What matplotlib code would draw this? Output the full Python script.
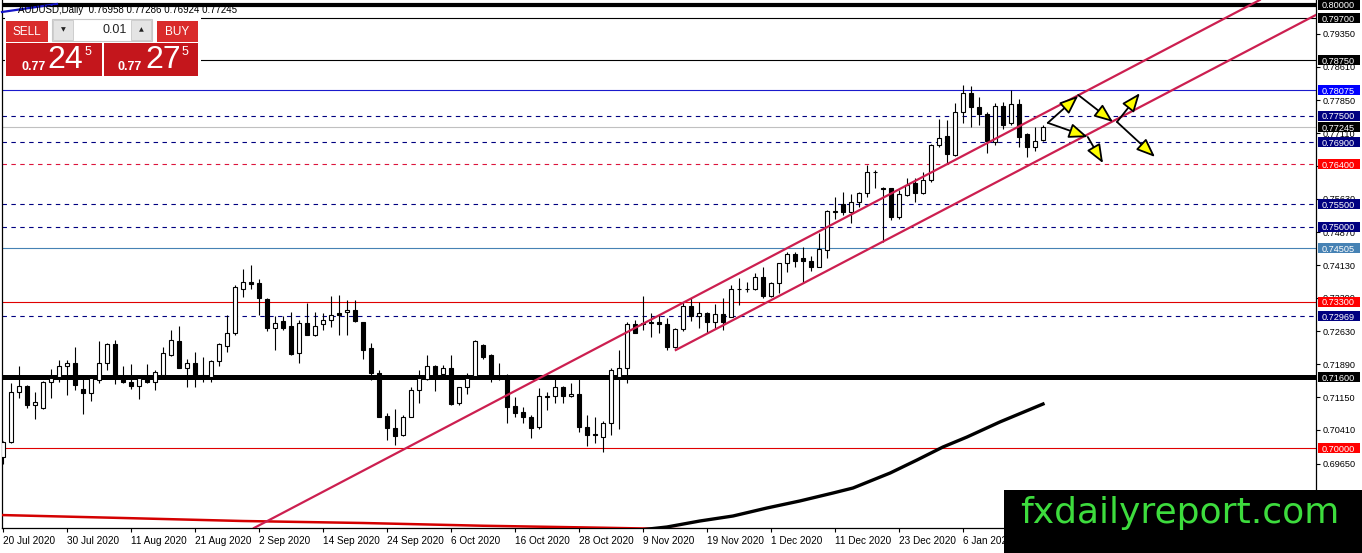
import matplotlib
matplotlib.use('Agg')
import matplotlib.pyplot as plt
from matplotlib.patches import Rectangle
import numpy as np

plt.rcParams['font.family'] = ['Liberation Sans', 'DejaVu Sans']

# ---------------- data ----------------
symbol_header = "AUDUSD,Daily  0.76958 0.77286 0.76924 0.77245"

opens = [0.6980, 0.7014, 0.7126, 0.7140, 0.7096, 0.7090, 0.7148, 0.7161, 0.7184, 0.7193,
         0.7133, 0.7124, 0.7153, 0.7191, 0.7234, 0.7159, 0.7148, 0.7141, 0.7156, 0.7148,
         0.7165, 0.7211, 0.7242, 0.7181, 0.7191, 0.7165, 0.7161, 0.7197, 0.7231, 0.7259,
         0.7360, 0.7374, 0.7372, 0.7336, 0.7272, 0.7287, 0.7276, 0.7214, 0.7282, 0.7255,
         0.7280, 0.7288, 0.7304, 0.7306, 0.7311, 0.7285, 0.7225, 0.7170, 0.7072, 0.7046,
         0.7029, 0.7071, 0.7131, 0.7155, 0.7185, 0.7168, 0.7180, 0.7101, 0.7137, 0.7162,
         0.7233, 0.7210, 0.7161, 0.7161, 0.7095, 0.7081, 0.7071, 0.7047, 0.7116, 0.7117,
         0.7137, 0.7118, 0.7123, 0.7048, 0.7032, 0.7024, 0.7056, 0.7160, 0.7180, 0.7281,
         0.7279, 0.7283, 0.7284, 0.7281, 0.7229, 0.7268, 0.7320, 0.7298, 0.7304, 0.7285,
         0.7302, 0.7296, 0.7359, 0.7358, 0.7360, 0.7385, 0.7342, 0.7372, 0.7417, 0.7439,
         0.7428, 0.7422, 0.7409, 0.7447, 0.7532, 0.7551, 0.7532, 0.7556, 0.7575, 0.7622,
         0.7588, 0.7586, 0.7522, 0.7571, 0.7599, 0.7575, 0.7606, 0.7684, 0.7704, 0.7661,
         0.7758, 0.7801, 0.7769, 0.7753, 0.7691, 0.7772, 0.7733, 0.7776, 0.7708, 0.7680,
         0.76958]
highs = [0.7016, 0.7146, 0.7184, 0.7142, 0.7127, 0.7151, 0.7178, 0.7199, 0.7199, 0.7227,
         0.7161, 0.7165, 0.7242, 0.7238, 0.7244, 0.7184, 0.7189, 0.7165, 0.7189, 0.7175,
         0.7227, 0.7266, 0.7275, 0.7202, 0.7216, 0.7205, 0.7199, 0.7236, 0.7300, 0.7368,
         0.7404, 0.7413, 0.7382, 0.7338, 0.7299, 0.7297, 0.7308, 0.7288, 0.7327, 0.7308,
         0.7304, 0.7342, 0.7345, 0.7334, 0.7334, 0.7285, 0.7236, 0.7177, 0.7080, 0.7087,
         0.7074, 0.7138, 0.7176, 0.7210, 0.7187, 0.7187, 0.7210, 0.7138, 0.7170, 0.7244,
         0.7235, 0.7213, 0.7191, 0.7166, 0.7114, 0.7092, 0.7075, 0.7136, 0.7127, 0.7155,
         0.7140, 0.7146, 0.7157, 0.7075, 0.7071, 0.7060, 0.7180, 0.7221, 0.7285, 0.7289,
         0.7342, 0.7304, 0.7300, 0.7293, 0.7270, 0.7330, 0.7338, 0.7330, 0.7306, 0.7325,
         0.7338, 0.7368, 0.7383, 0.7375, 0.7396, 0.7409, 0.7375, 0.7418, 0.7443, 0.7443,
         0.7453, 0.7433, 0.7486, 0.7537, 0.7567, 0.7579, 0.7573, 0.7579, 0.7639, 0.7628,
         0.7590, 0.7588, 0.7583, 0.7609, 0.7609, 0.7624, 0.7686, 0.7742, 0.7740, 0.7778,
         0.7819, 0.7817, 0.7792, 0.7759, 0.7778, 0.7780, 0.7807, 0.7787, 0.7712, 0.7725,
         0.77286]
lows = [0.6965, 0.7012, 0.7112, 0.7090, 0.7065, 0.7088, 0.7112, 0.7148, 0.7120, 0.7132,
        0.7076, 0.7105, 0.7146, 0.7175, 0.7144, 0.7146, 0.7133, 0.7110, 0.7146, 0.7131,
        0.7163, 0.7208, 0.7180, 0.7137, 0.7137, 0.7150, 0.7150, 0.7186, 0.7216, 0.7254,
        0.7340, 0.7360, 0.7300, 0.7263, 0.7221, 0.7266, 0.7211, 0.7193, 0.7254, 0.7253,
        0.7266, 0.7274, 0.7255, 0.7255, 0.7284, 0.7200, 0.7154, 0.7069, 0.7017, 0.7007,
        0.7027, 0.7069, 0.7101, 0.7154, 0.7129, 0.7165, 0.7097, 0.7097, 0.7123, 0.7161,
        0.7202, 0.7150, 0.7153, 0.7056, 0.7071, 0.7057, 0.7022, 0.7044, 0.7086, 0.7101,
        0.7102, 0.7116, 0.7037, 0.7004, 0.7011, 0.6992, 0.7029, 0.7044, 0.7146, 0.7259,
        0.7266, 0.7251, 0.7259, 0.7221, 0.7225, 0.7265, 0.7287, 0.7272, 0.7259, 0.7270,
        0.7266, 0.7295, 0.7323, 0.7353, 0.7357, 0.7338, 0.7340, 0.7349, 0.7398, 0.7409,
        0.7372, 0.7400, 0.7408, 0.7428, 0.7518, 0.7526, 0.7507, 0.7545, 0.7567, 0.7586,
        0.7466, 0.7515, 0.7518, 0.7569, 0.7556, 0.7573, 0.7601, 0.7680, 0.7643, 0.7659,
        0.7733, 0.7725, 0.7729, 0.7667, 0.7684, 0.7719, 0.7729, 0.7680, 0.7658, 0.7671,
        0.76924]
closes = [0.7014, 0.7127, 0.7140, 0.7096, 0.7103, 0.7148, 0.7157, 0.7186, 0.7193, 0.7143,
          0.7124, 0.7157, 0.7191, 0.7234, 0.7165, 0.7148, 0.7141, 0.7159, 0.7148, 0.7171,
          0.7214, 0.7244, 0.7181, 0.7191, 0.7160, 0.7163, 0.7197, 0.7234, 0.7259, 0.7364,
          0.7374, 0.7371, 0.7338, 0.7272, 0.7282, 0.7272, 0.7212, 0.7282, 0.7255, 0.7276,
          0.7288, 0.7300, 0.7301, 0.7311, 0.7287, 0.7222, 0.7170, 0.7071, 0.7046, 0.7028,
          0.7069, 0.7131, 0.7157, 0.7185, 0.7157, 0.7180, 0.7099, 0.7137, 0.7157, 0.7242,
          0.7206, 0.7162, 0.7160, 0.7092, 0.7080, 0.7071, 0.7046, 0.7117, 0.7118, 0.7137,
          0.7117, 0.7123, 0.7047, 0.7029, 0.7029, 0.7056, 0.7176, 0.7180, 0.7281, 0.7259,
          0.7283, 0.7284, 0.7279, 0.7229, 0.7268, 0.7320, 0.7298, 0.7304, 0.7285, 0.7302,
          0.7285, 0.7360, 0.7360, 0.7360, 0.7385, 0.7342, 0.7372, 0.7417, 0.7437, 0.7422,
          0.7422, 0.7409, 0.7449, 0.7535, 0.7535, 0.7532, 0.7556, 0.7576, 0.7622, 0.7624,
          0.7585, 0.7522, 0.7573, 0.7594, 0.7575, 0.7606, 0.7684, 0.7699, 0.7664, 0.7758,
          0.7801, 0.7769, 0.7755, 0.7693, 0.7772, 0.7729, 0.7776, 0.7701, 0.7680, 0.7694,
          0.77245]

date_tick_bars = [0, 8, 16, 24, 32, 40, 48, 56, 64, 72, 80, 88, 96, 104, 112, 120]
date_tick_labels = ["20 Jul 2020", "30 Jul 2020", "11 Aug 2020", "21 Aug 2020", "2 Sep 2020",
                    "14 Sep 2020", "24 Sep 2020", "6 Oct 2020", "16 Oct 2020", "28 Oct 2020",
                    "9 Nov 2020", "19 Nov 2020", "1 Dec 2020", "11 Dec 2020", "23 Dec 2020",
                    "6 Jan 2021"]

price_ticks = [0.79350, 0.78610, 0.77850, 0.77110, 0.76370, 0.75630, 0.74870,
               0.74130, 0.73390, 0.72630, 0.71890, 0.71150, 0.70410, 0.69650]

# horizontal levels: value, line colour, width, style, label background
level_values = [0.80000, 0.79700, 0.78750, 0.78075, 0.77500, 0.77245, 0.76900,
                0.76400, 0.75500, 0.75000, 0.74505, 0.73300, 0.72969, 0.71600, 0.70000]
level_colors = ['#000000', '#000000', '#000000', '#1a1acc', '#000080', '#c0c0c0', '#000080',
                '#dc143c', '#000080', '#000080', '#4682b4', '#e00000', '#000080', '#000000', '#e00000']
level_widths = [3.0, 0.8, 0.8, 0.8, 0.8, 0.8, 0.8, 0.8, 0.8, 0.8, 0.8, 0.8, 0.8, 3.6, 0.8]
level_styles = ['-', '-', '-', '-', 'd', '-', 'd', 'd', 'd', 'd', '-', '-', 'd', '-', '-']
level_label_bg = ['#000000', '#000000', '#000000', '#0000ff', '#000080', '#000000', '#000080',
                  '#ff0000', '#000080', '#000080', '#4682b4', '#ff0000', '#000080', '#000000', '#ff0000']

# moving averages (bar index, value)
ma_slow_bars = [79.6, 83, 87.1, 91.25, 95.5, 99.6, 103.75, 106.25, 110.9, 114.25, 117.5, 120.5, 124.6, 130]
ma_slow_vals = [0.68149, 0.68217, 0.68352, 0.68465, 0.68646, 0.68804, 0.68984, 0.69097,
                0.69436, 0.69729, 0.70023, 0.70248, 0.70587, 0.70993]
ma_red_bars = [-0.5, 15, 30, 45, 60, 75, 90]
ma_red_vals = [0.68488, 0.68420, 0.68352, 0.68307, 0.68245, 0.68200, 0.68150]

# channel trend lines (bar index, price)
channel_upper = [(30.9, 0.68149), (155.9, 0.80000)]
channel_lower = [(84.1, 0.72212), (164.1, 0.79774)]

# scenario arrows: (start bar, start price, end bar, end price)
arrows = [(130.6, 0.7734, 134.4, 0.7795),
          (130.6, 0.7734, 135.6, 0.7702),
          (135.6, 0.7702, 137.5, 0.7643),
          (134.4, 0.7797, 138.75, 0.7736),
          (139.25, 0.7736, 142.1, 0.7801),
          (139.25, 0.7736, 144.0, 0.7657)]

# ---------------- figure ----------------
W, H = 1362, 553
fig = plt.figure(figsize=(W / 100, H / 100), dpi=100)
fig.patch.set_facecolor('white')


def fx(px):
    return px / W


def fy(py):
    return 1 - py / H


ax = fig.add_axes([fx(2), fy(528), fx(1316) - fx(2), fy(0) - fy(528)])
ax.set_xlim(-0.125, 164.125)
ax.set_ylim(0.8 - 523 / 4430, 0.8 + 5 / 4430)

o = np.array(opens); h = np.array(highs); l = np.array(lows); c = np.array(closes)
idx = np.arange(len(o))
up = c >= o

# levels
for v, col, lw, st in zip(level_values, level_colors, level_widths, level_styles):
    ls = (0, (4, 4)) if st == 'd' else '-'
    ax.axhline(v, color=col, lw=lw, ls=ls, zorder=2)

# moving averages
ax.plot(ma_red_bars, ma_red_vals, color='#d40000', lw=1.8, zorder=3)
ax.plot(ma_slow_bars, ma_slow_vals, color='black', lw=2.4, zorder=3)

# candles
ax.vlines(idx, l, h, color='black', lw=0.8, zorder=4)
bot = np.minimum(o, c)
hgt = np.maximum(np.abs(c - o), 0.00003)
ax.bar(idx[up], hgt[up], bottom=bot[up], width=0.55, facecolor='white', edgecolor='black', lw=0.8, zorder=5)
ax.bar(idx[~up], hgt[~up], bottom=bot[~up], width=0.55, facecolor='black', edgecolor='black', lw=0.8, zorder=5)

# channel
ch_col = '#cc1f50'
ax.axline(channel_upper[0], channel_upper[1], color=ch_col, lw=1.6, zorder=6)
ax.plot([channel_lower[0][0], channel_lower[1][0]], [channel_lower[0][1], channel_lower[1][1]],
        color=ch_col, lw=1.6, zorder=6)

# arrows
for x0, y0, x1, y1 in arrows:
    ax.annotate('', xy=(x1, y1), xytext=(x0, y0),
                arrowprops=dict(arrowstyle='-|>,head_length=0.95,head_width=0.38', mutation_scale=12,
                                facecolor='#ffff00', edgecolor='black', lw=1.3, shrinkA=0, shrinkB=0),
                zorder=7)

# axes styling
ax.spines['top'].set_visible(False)
for s in ['left', 'bottom', 'right']:
    ax.spines[s].set_color('black')
    ax.spines[s].set_linewidth(0.9)
ax.yaxis.tick_right()
ax.set_yticks(price_ticks)
ax.set_yticklabels([f"{v:.5f}" for v in price_ticks])
ax.tick_params(axis='y', which='both', direction='out', length=3, width=0.8, pad=1.5,
               labelsize=6.6, left=False, right=True)
ax.set_xticks(date_tick_bars)
ax.set_xticklabels(date_tick_labels, ha='left')
ax.tick_params(axis='x', direction='out', length=3, width=0.8, pad=2.5, labelsize=7.2)

# level labels on price scale
tr = ax.get_yaxis_transform()
bx0 = (1318 - 2) / 1314
bw = 42 / 1314
bh = 10 / 4430
for v, bg in zip(level_values, level_label_bg):
    ax.add_patch(Rectangle((bx0, v - bh / 2), bw, bh, transform=tr, facecolor=bg,
                           edgecolor='none', clip_on=False, zorder=10))
    ax.text(bx0 + 4 / 1314, v, f"{v:.5f}", transform=tr, ha='left', va='center_baseline',
            color='white', fontsize=6.6, clip_on=False, zorder=11)

# ---------------- overlay (pixel space) ----------------
ov = fig.add_axes([0, 0, 1, 1], zorder=20)
ov.set_xlim(0, W)
ov.set_ylim(H, 0)
ov.axis('off')
ov.patch.set_visible(False)

# header
ov.plot([2, 57], [12, 4], color='#1515c8', lw=1.6)
ov.text(18, 13, symbol_header, fontsize=7, color='black', va='baseline')

# one-click trading panel
ov.add_patch(Rectangle((5, 17), 196, 61, facecolor='white', edgecolor='none'))
ov.add_patch(Rectangle((6, 21), 42, 21, facecolor='#d92b2b', edgecolor='none'))
ov.text(27, 32, 'SELL', color='white', fontsize=8.5, ha='center', va='center')
ov.add_patch(Rectangle((157, 21), 41, 21, facecolor='#d92b2b', edgecolor='none'))
ov.text(177.5, 32, 'BUY', color='white', fontsize=8.5, ha='center', va='center')
ov.add_patch(Rectangle((52, 19), 100, 22, facecolor='white', edgecolor='#c8c8c8', lw=0.8))
ov.add_patch(Rectangle((53, 20), 20, 20, facecolor='#e4e4e4', edgecolor='#c8c8c8', lw=0.6))
ov.add_patch(Rectangle((131, 20), 20, 20, facecolor='#e4e4e4', edgecolor='#c8c8c8', lw=0.6))
ov.text(63, 30, '\u25bc', fontsize=4.5, ha='center', va='center', color='#222222',
        family=['DejaVu Sans'])
ov.text(141, 30, '\u25b2', fontsize=4.5, ha='center', va='center', color='#222222',
        family=['DejaVu Sans'])
ov.text(127, 30, '0.01', fontsize=9, ha='right', va='center', color='#222222')
ov.add_patch(Rectangle((6, 43), 96, 33, facecolor='#c4161c', edgecolor='none'))
ov.add_patch(Rectangle((104, 43), 94, 33, facecolor='#c4161c', edgecolor='none'))
ov.text(21, 70, '0.77', fontsize=9, fontweight='bold', color='white', va='baseline')
ov.text(47, 68, '24', fontsize=23, color='white', va='baseline')
ov.text(85, 55, '5', fontsize=9, color='white', va='baseline')
ov.text(118, 70, '0.77', fontsize=9, fontweight='bold', color='white', va='baseline')
ov.text(145, 68, '27', fontsize=23, color='white', va='baseline')
ov.text(182, 55, '5', fontsize=9, color='white', va='baseline')

# watermark
ov.add_patch(Rectangle((1004, 490), 358, 63, facecolor='black', edgecolor='none'))
ov.text(1020, 523, 'fxdailyreport.com', fontsize=26, color='#3ddc3d', va='baseline',
        family=['DejaVu Sans'])

fig.savefig('out.png', dpi=100, facecolor='white')
